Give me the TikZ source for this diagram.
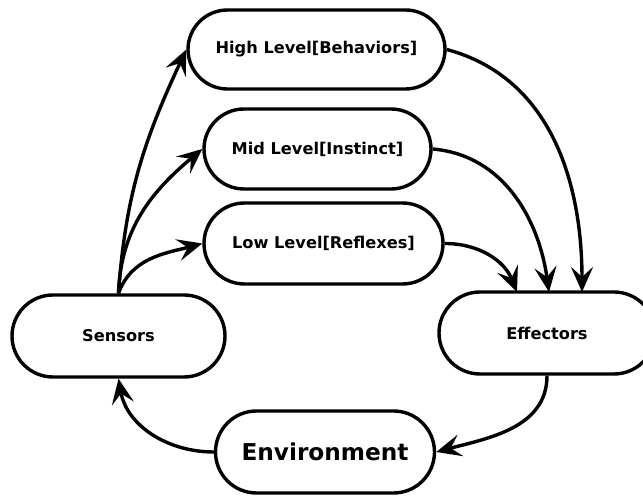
\documentclass[tikz,border=0pt]{standalone}
\usepackage{fontspec}
\setmainfont{DejaVu Sans}
\usetikzlibrary{shapes.misc,arrows.meta}
\begin{document}
\begin{tikzpicture}[x=1pt,y=1pt,
  box/.style={rounded rectangle, draw=black, line width=3.4pt, fill=white,
    inner sep=0pt, font=\fontsize{16.2}{19}\selectfont\bfseries},
  flow/.style={line width=3.4pt,
    -{Stealth[length=25pt,width=22pt,inset=10pt]}}]
\useasboundingbox (0,0) rectangle (643,497);

% layers of the controller
\node[box, minimum width=257pt, minimum height=79pt] (high) at (316.5,447.5) {High Level[Behaviors]};
\node[box, minimum width=227pt, minimum height=80pt] (mid)  at (317.5,348) {Mid Level[Instinct]};
\node[box, minimum width=239pt, minimum height=81pt] (low)  at (323.5,253.5) {Low Level[Reflexes]};

% sensing / acting loop
\node[box, minimum width=213pt, minimum height=82pt] (sens) at (118.5,161) {Sensors};
\node[box, minimum width=216pt, minimum height=82pt] (eff)  at (547,164) {Effectors};
\node[box, minimum width=219pt, minimum height=82pt,
      font=\fontsize{23.2}{27}\selectfont\bfseries] (env) at (325,45) {Environment};

% sensors feed every layer
\draw[flow] (sens.north) to[out=86, in=245] (high.west);
\draw[flow] (sens.north) to[out=88, in=220] (mid.west);
\draw[flow] (sens.north) to[out=70, in=195] (low.west);

% every layer drives the effectors
\coordinate (effA) at (517,205);
\coordinate (effB) at (549,205);
\coordinate (effC) at (582,205);
\draw[flow] (low.east)  to[out=0,   in=112] (effA);
\draw[flow] (mid.east)  to[out=-5,  in=98]  (effB);
\draw[flow] (high.east) to[out=-15, in=90]  (effC);

% closing the loop through the environment
\draw[flow] (eff.south) to[out=-90, in=15]  (env.east);
\draw[flow] (env.west)  to[out=180, in=-80] (sens.south);
\end{tikzpicture}
\end{document}
